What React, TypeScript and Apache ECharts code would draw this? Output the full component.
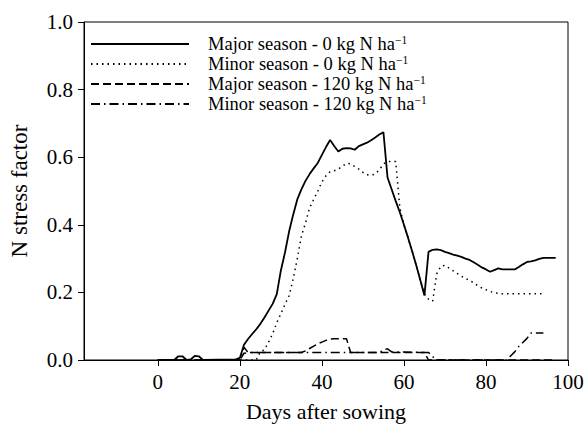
import React, { useEffect, useRef } from "react";
import * as echarts from "echarts";

const FONT = "Liberation Serif";

const seriesNames = [
  "Major season - 0 kg N ha-1",
  "Minor season - 0 kg N ha-1",
  "Major season - 120 kg N ha-1",
  "Minor season - 120 kg N ha-1",
];

const xTicks = [0, 20, 40, 60, 80, 100];

const majorZeroDays = [0, 4, 5, 6, 7, 8, 9, 10, 11, 19, 20, 21, 22, 23, 24, 25, 26, 27, 28, 29, 30, 31, 32, 33, 34, 35, 36, 37, 38, 39, 40, 41, 42, 43, 44, 45, 46, 47, 48, 49, 50, 51, 52, 53, 54, 55, 56, 57, 58, 59, 60, 61, 62, 63, 64, 65, 66, 67, 68, 69, 70, 71, 72, 73, 74, 75, 76, 77, 78, 79, 80, 81, 82, 83, 84, 85, 86, 87, 88, 89, 90, 91, 92, 93, 94, 95, 96, 97];
const majorZeroStress = [0, 0, 0.011, 0.011, 0, 0.002, 0.012, 0.011, 0, 0.002, 0.006, 0.045, 0.062, 0.077, 0.091, 0.107, 0.126, 0.146, 0.166, 0.195, 0.265, 0.318, 0.38, 0.43, 0.475, 0.505, 0.53, 0.55, 0.567, 0.583, 0.607, 0.63, 0.651, 0.633, 0.617, 0.625, 0.627, 0.626, 0.622, 0.633, 0.638, 0.643, 0.65, 0.658, 0.667, 0.674, 0.54, 0.505, 0.47, 0.437, 0.4, 0.362, 0.322, 0.28, 0.236, 0.191, 0.32, 0.326, 0.327, 0.325, 0.32, 0.316, 0.312, 0.309, 0.305, 0.3, 0.296, 0.289, 0.282, 0.274, 0.268, 0.261, 0.266, 0.271, 0.268, 0.268, 0.268, 0.268, 0.275, 0.283, 0.29, 0.292, 0.295, 0.299, 0.302, 0.302, 0.302, 0.302];

const minorZeroDays = [0, 24, 25, 26, 27, 28, 29, 30, 31, 32, 33, 34, 35, 36, 37, 38, 39, 40, 41, 42, 43, 44, 45, 46, 47, 48, 49, 50, 51, 52, 53, 54, 55, 56, 57, 58, 59, 60, 61, 62, 63, 64, 65, 66, 67, 68, 69, 70, 71, 72, 73, 74, 75, 76, 77, 78, 79, 80, 81, 82, 83, 84, 94];
const minorZeroStress = [0, 0, 0.025, 0.03, 0.053, 0.078, 0.11, 0.137, 0.165, 0.19, 0.24, 0.3, 0.367, 0.405, 0.45, 0.475, 0.5, 0.527, 0.545, 0.557, 0.56, 0.565, 0.573, 0.582, 0.58, 0.573, 0.565, 0.555, 0.548, 0.547, 0.55, 0.563, 0.58, 0.587, 0.587, 0.587, 0.45, 0.4, 0.362, 0.322, 0.28, 0.236, 0.195, 0.18, 0.174, 0.255, 0.277, 0.28, 0.272, 0.264, 0.256, 0.248, 0.241, 0.236, 0.228, 0.22, 0.213, 0.208, 0.203, 0.199, 0.197, 0.196, 0.196];

const majorHighDays = [0, 20, 21, 22, 35, 36, 37, 38, 39, 40, 41, 42, 43, 46, 47, 65, 66, 97];
const majorHighStress = [0, 0, 0.02, 0.022, 0.022, 0.027, 0.034, 0.041, 0.048, 0.053, 0.058, 0.062, 0.063, 0.063, 0.022, 0.022, 0, 0];

const minorHighDays = [0, 20, 21, 22, 54, 55, 56, 57, 66, 67, 68, 85, 86, 87, 88, 89, 90, 91, 94];
const minorHighStress = [0, 0, 0.038, 0.022, 0.022, 0.03, 0.033, 0.024, 0.022, 0.01, 0, 0, 0.012, 0.024, 0.04, 0.052, 0.064, 0.08, 0.08];

const pair = (d: number[], v: number[]) => d.map((x, i) => [x, v[i]]);

const lineTypes: any[] = ["solid", [1.5, 4], [8, 4], [9, 4, 1.5, 4]];
const seriesData = [
  pair(majorZeroDays, majorZeroStress),
  pair(minorZeroDays, minorZeroStress),
  pair(majorHighDays, majorHighStress),
  pair(minorHighDays, minorHighStress),
];

export default function App() {
  const ref = useRef<HTMLDivElement>(null);
  useEffect(() => {
    if (!ref.current) return;
    const chart = echarts.init(ref.current, null, { renderer: "svg" });
    chart.setOption({
      animation: false,
      backgroundColor: "#fff",
      textStyle: { fontFamily: FONT },
      grid: {
        left: 84,
        right: 18,
        top: 22,
        bottom: 66,
        show: true,
        borderColor: "#000",
        borderWidth: 1,
        containLabel: false,
        outerBoundsMode: "none",
      },
      legend: {
        show: true,
        orient: "vertical",
        left: 90,
        top: 34,
        padding: 0,
        itemGap: 0,
        itemWidth: 98,
        itemHeight: 14,
        selectedMode: false,
        data: seriesNames,
        itemStyle: { opacity: 0, color: "transparent", borderWidth: 0 },
        formatter: (name: string) => name.replace(" ha-1", " ha{sup|−1}"),
        textStyle: {
          fontFamily: FONT,
          fontSize: 18.5,
          color: "#000",
          lineHeight: 20,
          padding: [0, 0, 0, 14],
          rich: {
            sup: {
              fontFamily: FONT,
              fontSize: 11.5,
              color: "#000",
              verticalAlign: "top",
              lineHeight: 11,
            },
          },
        },
      },
      xAxis: {
        type: "value",
        min: -18,
        max: 100,
        name: "Days after sowing",
        nameLocation: "middle",
        nameGap: 40,
        nameTextStyle: { fontFamily: FONT, fontSize: 22, color: "#000" },
        axisLine: { show: true, onZero: false, lineStyle: { color: "#000", width: 1 } },
        axisTick: { show: true, length: 6, inside: false, customValues: xTicks, lineStyle: { color: "#000" } },
        axisLabel: { fontFamily: FONT, fontSize: 21, color: "#000", margin: 11, customValues: xTicks },
        splitLine: { show: false },
      },
      yAxis: {
        type: "value",
        min: 0,
        max: 1,
        interval: 0.2,
        name: "N stress factor",
        nameLocation: "middle",
        nameGap: 53,
        nameTextStyle: { fontFamily: FONT, fontSize: 23, color: "#000" },
        axisLine: { show: true, onZero: false, lineStyle: { color: "#000", width: 1 } },
        axisTick: { show: true, length: 6, inside: false, lineStyle: { color: "#000" } },
        axisLabel: {
          fontFamily: FONT,
          fontSize: 21,
          color: "#000",
          margin: 11,
          formatter: (v: number) => v.toFixed(1),
        },
        splitLine: { show: false },
      },
      series: seriesNames.map((name, i) => ({
        name,
        type: "line",
        data: seriesData[i],
        symbol: "none",
        showSymbol: false,
        smooth: false,
        lineStyle: { color: "#000", width: i === 0 ? 1.8 : 1.5, type: lineTypes[i], cap: "butt" },
        itemStyle: { color: "#000" },
        z: 4 - i,
      })),
    });
    return () => chart.dispose();
  }, []);
  return (
    <div
      ref={ref}
      style={{ position: "fixed", left: 0, top: 0, width: 586, height: 426, background: "#fff" }}
    />
  );
}
